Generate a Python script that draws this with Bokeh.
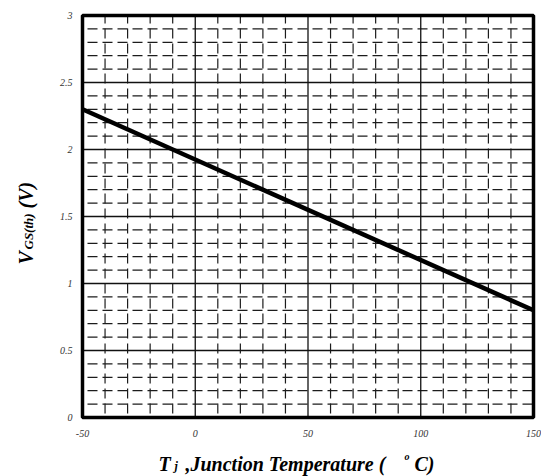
import math
from bokeh.plotting import figure
from bokeh.models import Range1d, Label
from bokeh.core.properties import value
from bokeh.embed import file_html
from bokeh.resources import INLINE

# ---- data ----
temp_c = [-50, 150]          # Tj (deg C)
vgs_th = [2.3, 0.8]          # VGS(th) (V)

x_major = [-50, 0, 50, 100, 150]
x_minor = [-40, -30, -20, -10, 10, 20, 30, 40, 60, 70, 80, 90, 110, 120, 130, 140]
x_labels = ["-50", "0", "50", "100", "150"]
y_major = [0, 0.5, 1, 1.5, 2, 2.5, 3]
y_minor = [0.1, 0.2, 0.3, 0.4, 0.6, 0.7, 0.8, 0.9, 1.1, 1.2, 1.3, 1.4,
           1.6, 1.7, 1.8, 1.9, 2.1, 2.2, 2.3, 2.4, 2.6, 2.7, 2.8, 2.9]
y_labels = ["0", "0.5", "1", "1.5", "2", "2.5", "3"]

# ---- layout (canvas pixels of the plot box) ----
W, H = 541, 476
FL, FR, FT, FB = 82, 533, 15, 417
x_lo, x_hi = x_major[0], x_major[-1]
y_lo, y_hi = y_major[0], y_major[-1]


def dx(px):
    return x_lo + (px - FL) * (x_hi - x_lo) / (FR - FL)


def dy(py):
    return y_lo + (FB - py) * (y_hi - y_lo) / (FB - FT)


p = figure(width=W, height=H, output_backend="svg", toolbar_location=None,
           x_range=Range1d(dx(0), dx(W)), y_range=Range1d(dy(H), dy(0)),
           x_axis_type=None, y_axis_type=None, min_border=0)
p.outline_line_color = None
p.background_fill_color = "white"
p.border_fill_color = "white"

minor_style = dict(line_color="#1c1c1c", line_width=1.2, line_dash="10 5")

# vertical minor grid lines
p.segment(x0=x_minor, y0=[y_lo] * len(x_minor), x1=x_minor, y1=[y_hi] * len(x_minor),
          line_dash_offset=11, **minor_style)
# horizontal minor grid lines
p.segment(x0=[x_lo] * len(y_minor), y0=y_minor, x1=[x_hi] * len(y_minor), y1=y_minor,
          line_dash_offset=10, **minor_style)

# major grid lines
p.segment(x0=x_major, y0=[y_lo] * len(x_major), x1=x_major, y1=[y_hi] * len(x_major),
          line_color="#111111", line_width=1.3)
p.segment(x0=[x_lo] * len(y_major), y0=y_major, x1=[x_hi] * len(y_major), y1=y_major,
          line_color="#111111", line_width=1.3)

# curve
p.line(temp_c, vgs_th, line_color="black", line_width=4.5)

# plot box
p.quad(left=[x_lo], right=[x_hi], bottom=[y_lo], top=[y_hi],
       fill_color=None, line_color="black", line_width=3.5)

# tick labels
tick_font = dict(text_font=value("Liberation Serif"), text_font_style="italic",
                 text_font_size=value("10px"), text_color="#333333")
p.text(x=x_major, y=[y_lo] * len(x_major), text=x_labels, text_align="center",
       text_baseline="middle", y_offset=16, **tick_font)
p.text(x=[x_lo] * len(y_major), y=y_major, text=y_labels, text_align="right",
       text_baseline="middle", x_offset=-10, **tick_font)


def lab(text, px, py, size, angle=0.0):
    p.add_layout(Label(x=dx(px), y=dy(py), text=text, text_font="Liberation Serif",
                       text_font_style="bold italic", text_font_size=f"{size}px",
                       text_color="black", text_baseline="alphabetic",
                       text_align="left", angle=angle))


# x-axis title: T_j ,Junction Temperature ( ° C)
lab("T", 158, 463, 20)
lab("j", 174, 465, 12)
lab(",Junction Temperature (", 185, 463, 20)
lab("o", 404, 456, 10)
lab("C)", 414, 463, 20)

# y-axis title: V_GS(th) (V)
r = math.pi / 2
lab("V", 25, 264, 20, r)
lab("GS(th)", 28, 249, 13, r)
lab("(V)", 25, 208, 20, r)

open("out.html", "w").write(file_html(p, INLINE))
